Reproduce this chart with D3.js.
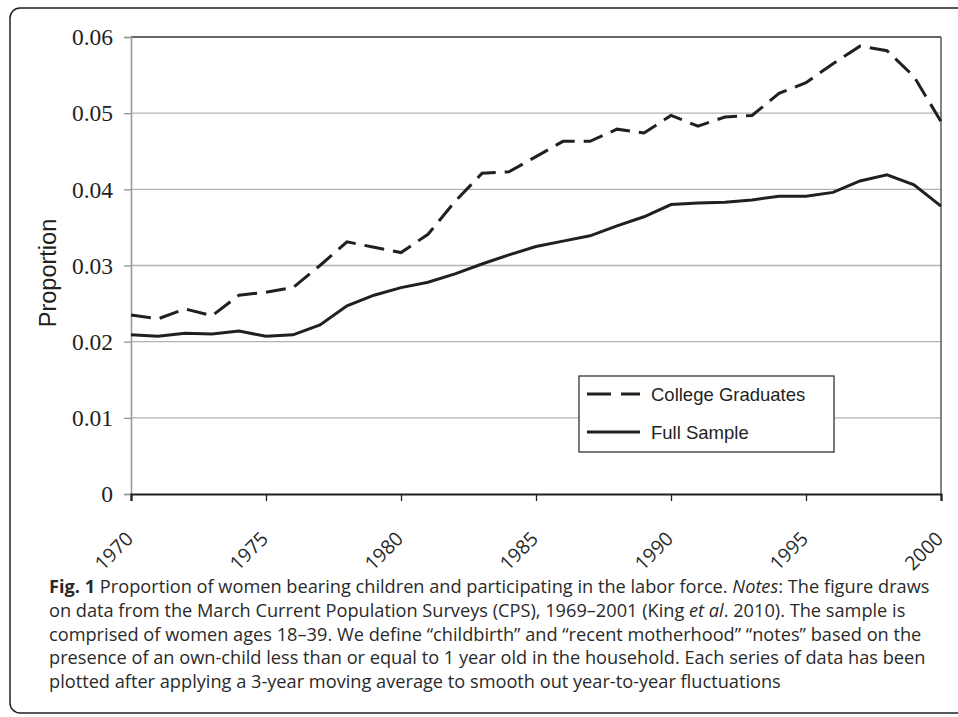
<!DOCTYPE html>
<html>
<head>
<meta charset="utf-8">
<script src="https://cdn.jsdelivr.net/npm/d3@7"></script>
<style>
  html, body { margin: 0; padding: 0; background: #fff; }
  svg { display: block; }
</style>
</head>
<body>
<script>
// ---- Data ----
const years = d3.range(1970, 2001);
const collegeGraduates = [0.0235, 0.0230, 0.0243, 0.0234, 0.0261, 0.0265, 0.0271, 0.0300, 0.0331, 0.0324,
  0.0317, 0.0341, 0.0384, 0.0421, 0.0423, 0.0443, 0.0463, 0.0463, 0.0479, 0.0474,
  0.0497, 0.0483, 0.0495, 0.0497, 0.0526, 0.0540, 0.0565, 0.0588, 0.0582, 0.0548, 0.0489];
const fullSample = [0.0209, 0.0207, 0.0211, 0.0210, 0.0214, 0.0207, 0.0209, 0.0222, 0.0247, 0.0261,
  0.0271, 0.0278, 0.0289, 0.0302, 0.0314, 0.0325, 0.0332, 0.0339, 0.0352, 0.0364,
  0.0380, 0.0382, 0.0383, 0.0386, 0.0391, 0.0391, 0.0396, 0.0411, 0.0419, 0.0406, 0.0378];
const yTicks = [0, 0.01, 0.02, 0.03, 0.04, 0.05, 0.06];
const yTickLabels = ["0", "0.01", "0.02", "0.03", "0.04", "0.05", "0.06"];
const xTicks = [1970, 1975, 1980, 1985, 1990, 1995, 2000];
const seriesNames = ["College Graduates", "Full Sample"];
const yTitle = "Proportion";

(function () {
const W = 958, H = 717;
const svg = d3.select("body").append("svg").attr("width", W).attr("height", H);

// outer rounded frame
svg.append("rect").attr("x", 10).attr("y", 8).attr("width", 970).attr("height", 705)
  .attr("rx", 10).attr("fill", "none").attr("stroke", "#231f20").attr("stroke-width", 1.5);

const pL = 131, pR = 941, pT = 37, pB = 494;
const x = d3.scaleLinear().domain([1970, 2000]).range([pL, pR]);
const y = d3.scaleLinear().domain([0, 0.06]).range([pB, pT]);

const ink = "#231f20";

// gridlines
svg.append("g").selectAll("line").data(yTicks.slice(1, -1)).join("line")
  .attr("x1", pL).attr("x2", pR)
  .attr("y1", d => y(d)).attr("y2", d => y(d))
  .attr("stroke", "#b3b3b3").attr("stroke-width", 1.4);

// plot border top & right
svg.append("line").attr("x1", pL).attr("x2", pR).attr("y1", y(0.06)).attr("y2", y(0.06))
  .attr("stroke", "#333").attr("stroke-width", 1.6);
svg.append("line").attr("x1", pR).attr("x2", pR).attr("y1", pT).attr("y2", pB)
  .attr("stroke", "#333").attr("stroke-width", 1.2);

// y axis (grey)
const yAxis = d3.axisLeft(y).tickValues(yTicks).tickSize(7).tickFormat((d, i) => yTickLabels[i]);
const gy = svg.append("g").attr("transform", `translate(${pL},0)`).call(yAxis);
gy.select(".domain").attr("stroke", "#9a9a9a").attr("stroke-width", 1.6);
gy.selectAll(".tick line").attr("stroke", "#9a9a9a").attr("stroke-width", 1.4);
gy.selectAll(".tick text").attr("font-family", "'Liberation Serif', 'Times New Roman', serif")
  .attr("font-size", 23.5).attr("fill", ink).attr("x", -18).attr("dy", "0.33em");

// x axis
const xAxis = d3.axisBottom(x).tickValues(xTicks).tickSize(7).tickFormat(d3.format("d"));
const gx = svg.append("g").attr("transform", `translate(0,${pB})`).call(xAxis);
gx.select(".domain").attr("stroke", ink).attr("stroke-width", 2.2);
gx.selectAll(".tick line").attr("stroke", ink).attr("stroke-width", 1.3);
gx.selectAll(".tick text").attr("font-family", "'Open Sans', sans-serif").attr("font-size", 19.5)
  .attr("fill", "#2a2a2a").attr("text-anchor", "end")
  .attr("x", 0).attr("y", 0).attr("dy", 0)
  .attr("transform", "translate(3,46) rotate(-45)");

// y title
svg.append("text").attr("transform", "translate(56,273) rotate(-90)")
  .attr("text-anchor", "middle").attr("font-family", "'Liberation Sans', Arial, sans-serif")
  .attr("font-size", 23.5).attr("fill", ink).text(yTitle);

// lines
const line = d3.line().x((d, i) => x(years[i])).y(d => y(d));
svg.append("path").datum(collegeGraduates).attr("d", line).attr("fill", "none")
  .attr("stroke", ink).attr("stroke-width", 3).attr("stroke-dasharray", "20,9");
svg.append("path").datum(fullSample).attr("d", line).attr("fill", "none")
  .attr("stroke", ink).attr("stroke-width", 3);

// legend
const lg = svg.append("g");
lg.append("rect").attr("x", 579).attr("y", 376).attr("width", 255).attr("height", 76)
  .attr("fill", "#fff").attr("stroke", "#333").attr("stroke-width", 1.3);
const legendRows = [{name: seriesNames[0], dash: "24,10", ly: 394}, {name: seriesNames[1], dash: null, ly: 432}];
legendRows.forEach(r => {
  lg.append("line").attr("x1", 587).attr("x2", 640).attr("y1", r.ly).attr("y2", r.ly)
    .attr("stroke", ink).attr("stroke-width", 3).attr("stroke-dasharray", r.dash);
  lg.append("text").attr("x", 651).attr("y", r.ly + 6.5)
    .attr("font-family", "'Liberation Sans', Arial, sans-serif").attr("font-size", 18.5)
    .attr("fill", ink).text(r.name);
});

// caption
const cap = svg.append("text").attr("font-family", "'Open Sans', sans-serif").attr("font-size", 18.2)
  .attr("fill", "#2a2a2a");
const lines = [
  [["Fig. 1", "b"], [" Proportion of women bearing children and participating in the labor force. ", ""], ["Notes", "i"], [": The figure draws", ""]],
  [["on data from the March Current Population Surveys (CPS), 1969–2001 (King ", ""], ["et al", "i"], [". 2010). The sample is", ""]],
  [["comprised of women ages 18–39. We define “childbirth” and “recent motherhood” “notes” based on the", ""]],
  [["presence of an own-child less than or equal to 1 year old in the household. Each series of data has been", ""]],
  [["plotted after applying a 3-year moving average to smooth out year-to-year fluctuations", ""]]
];
lines.forEach((ln, i) => {
  ln.forEach((seg, j) => {
    const t = cap.append("tspan").text(seg[0]);
    if (j === 0) t.attr("x", 49).attr("y", 593 + i * 23.8);
    if (seg[1] === "b") t.attr("font-weight", "bold");
    if (seg[1] === "i") t.attr("font-style", "italic");
  });
});
})();
</script>
</body>
</html>
